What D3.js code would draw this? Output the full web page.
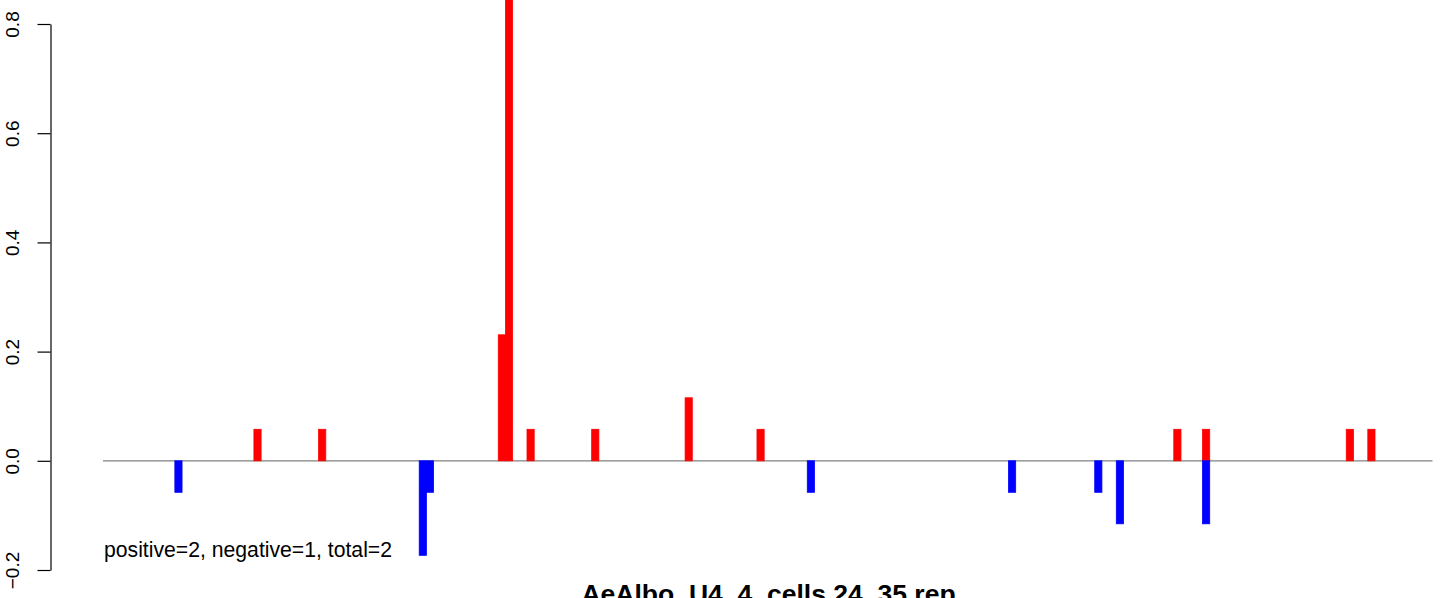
<!DOCTYPE html>
<html>
<head>
<meta charset="utf-8">
<script src="https://cdn.jsdelivr.net/npm/d3@7"></script>
<style>
  html, body { margin: 0; padding: 0; background: #fff; }
  svg { display: block; }
  text { font-family: "Liberation Sans", Arial, Helvetica, sans-serif; }
</style>
</head>
<body>
<div id="chart"></div>
<script>
// ---- data ----
const positionRange = [1, 186];
const positivePositions = [22, 31, 56, 57, 60, 69, 82, 92, 150, 154, 174, 177];
const positiveValues    = [0.0577, 0.0577, 0.2308, 0.87, 0.0577, 0.0577, 0.1154, 0.0577, 0.0577, 0.0577, 0.0577, 0.0577];
const negativePositions = [11, 45, 46, 99, 127, 139, 142, 154];
const negativeValues    = [-0.0577, -0.1731, -0.0577, -0.0577, -0.0577, -0.0577, -0.1154, -0.1154];
const yTicks = [-0.2, 0.0, 0.2, 0.4, 0.6, 0.8];
const summaryText = "positive=2, negative=1, total=2";
const titleText = "AeAlbo_U4_4_cells.24_35.rep";

// ---- layout ----
const W = 1444, H = 598;
const svg = d3.select("#chart").append("svg")
  .attr("width", W).attr("height", H)
  .attr("viewBox", `0 0 ${W} ${H}`);

const x = d3.scaleLinear().domain(positionRange).range([103, 1432.5]);
const y = d3.scaleLinear().domain([-0.2, 0.8]).range([570, 24]);

// baseline
svg.append("line")
  .attr("x1", x(positionRange[0])).attr("x2", x(positionRange[1]))
  .attr("y1", y(0)).attr("y2", y(0))
  .attr("stroke", "#808080").attr("stroke-width", 1.2);

function drawBars(pos, vals, color) {
  const data = pos.map((p, i) => ({p, v: vals[i]}));
  svg.append("g").selectAll("rect").data(data).enter().append("rect")
    .attr("x", d => x(d.p))
    .attr("width", d => x(d.p + 1) - x(d.p))
    .attr("y", d => Math.min(y(d.v), y(0)))
    .attr("height", d => Math.abs(y(d.v) - y(0)))
    .attr("fill", color)
    .attr("stroke", color)
    .attr("stroke-width", 0.8);
}
drawBars(positivePositions, positiveValues, "#ff0000");
drawBars(negativePositions, negativeValues, "#0000ff");

// y axis
const axisG = svg.append("g")
  .attr("transform", "translate(50.5,0)")
  .call(d3.axisLeft(y).tickValues(yTicks).tickSizeOuter(0).tickSizeInner(13)
        .tickFormat(d3.format(".1f")));
axisG.select(".domain").attr("stroke", "#000").attr("stroke-width", 1.2);
axisG.selectAll(".tick line").attr("stroke", "#000").attr("stroke-width", 1.2);
axisG.selectAll(".tick text")
  .attr("x", null).attr("dy", null)
  .attr("transform", "translate(-32,0) rotate(-90)")
  .attr("text-anchor", "middle")
  .attr("font-size", 19)
  .attr("fill", "#000")
  .style("font-family", "'Liberation Sans', Arial, sans-serif");

// summary text
svg.append("text")
  .attr("x", 104).attr("y", 557)
  .attr("font-size", 21.2)
  .attr("fill", "#000")
  .text(summaryText);

// title
svg.append("text")
  .attr("x", 768.5).attr("y", 603)
  .attr("text-anchor", "middle")
  .attr("font-size", 26.5)
  .attr("font-weight", "bold")
  .attr("fill", "#000")
  .text(titleText);
</script>
</body>
</html>
